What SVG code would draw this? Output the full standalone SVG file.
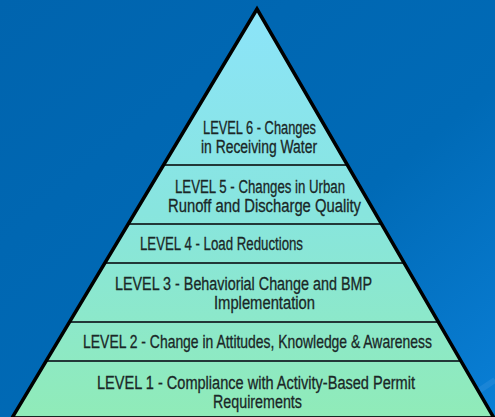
<svg xmlns="http://www.w3.org/2000/svg" width="495" height="417" viewBox="0 0 495 417">
<defs>
<linearGradient id="bg" x1="0" y1="0" x2="1" y2="1">
<stop offset="0" stop-color="#0064ae"/>
<stop offset="0.6" stop-color="#006ab6"/>
<stop offset="1" stop-color="#0a7fd6"/>
</linearGradient>
<linearGradient id="fill" x1="0" y1="9" x2="0" y2="417" gradientUnits="userSpaceOnUse">
<stop offset="0" stop-color="#8ce4fa"/>
<stop offset="0.5" stop-color="#88e5de"/>
<stop offset="1" stop-color="#90ebb8"/>
</linearGradient>
<clipPath id="tri"><polygon points="257,9 12,418 494,418"/></clipPath>
</defs>
<style>
.t{font-family:"Liberation Sans","DejaVu Sans",sans-serif;font-size:18px;fill:#1a2727;stroke:#1a2727;stroke-width:0.3;text-anchor:middle}
.div{stroke:#223838;stroke-width:2}
</style>
<rect width="495" height="417" fill="url(#bg)"/>
<line x1="440" y1="417" x2="495" y2="380" stroke="#3a95e0" stroke-width="6" opacity="0.35"/>
<g id="pyramid">
<polygon points="257,9 12,418 494,418" fill="url(#fill)"/>
</g>
<g id="connectors" clip-path="url(#tri)">
<line class="div" x1="0" y1="165" x2="495" y2="165"/>
<line class="div" x1="0" y1="224" x2="495" y2="224"/>
<line class="div" x1="0" y1="263" x2="495" y2="263"/>
<line class="div" x1="0" y1="322" x2="495" y2="322"/>
<line class="div" x1="0" y1="361" x2="495" y2="361"/>
<line x1="0" y1="416.5" x2="495" y2="416.5" stroke="#5a9a88" stroke-width="1"/>
</g>
<polygon points="257,9 12,418 494,418" fill="none" stroke="#000" stroke-width="3.5" stroke-linejoin="miter"/>
<g id="level6">
<text class="t" x="259.5" y="134" textLength="113" lengthAdjust="spacingAndGlyphs">LEVEL 6 - Changes</text>
<text class="t" x="259" y="153" textLength="116" lengthAdjust="spacingAndGlyphs">in Receiving Water</text>
</g>
<g id="level5">
<text class="t" x="260" y="193" textLength="170" lengthAdjust="spacingAndGlyphs">LEVEL 5 - Changes in Urban</text>
<text class="t" x="264.5" y="212" textLength="193" lengthAdjust="spacingAndGlyphs">Runoff and Discharge Quality</text>
</g>
<g id="level4">
<text class="t" x="221.5" y="250" textLength="163" lengthAdjust="spacingAndGlyphs">LEVEL 4 - Load Reductions</text>
</g>
<g id="level3">
<text class="t" x="243.5" y="290" textLength="257" lengthAdjust="spacingAndGlyphs">LEVEL 3 - Behaviorial Change and BMP</text>
<text class="t" x="264.5" y="309" textLength="101" lengthAdjust="spacingAndGlyphs">Implementation</text>
</g>
<g id="level2">
<text class="t" transform="translate(257.5,348) scale(0.8,1)" x="0" y="0" textLength="436" lengthAdjust="spacingAndGlyphs">LEVEL 2 - Change in Attitudes, Knowledge &amp; Awareness</text>
</g>
<g id="level1">
<text class="t" x="256" y="389" textLength="318" lengthAdjust="spacingAndGlyphs">LEVEL 1 - Compliance with Activity-Based Permit</text>
<text class="t" x="257.5" y="408" textLength="89" lengthAdjust="spacingAndGlyphs">Requirements</text>
</g>
</svg>
